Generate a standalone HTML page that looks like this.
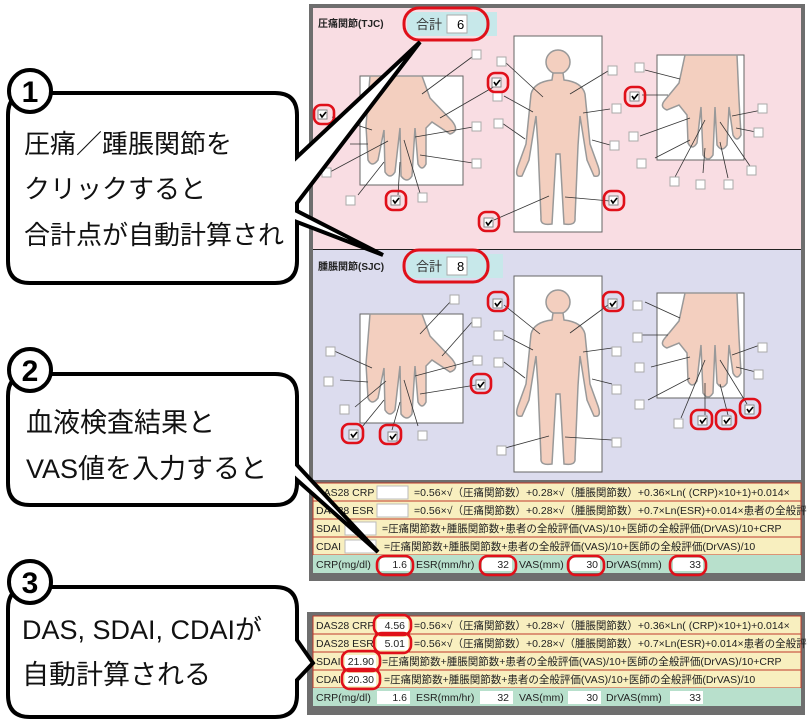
<!DOCTYPE html>
<html><head><meta charset="utf-8"><style>
html,body{margin:0;padding:0;background:#fff;}
svg{display:block}
.ui{font-family:"Liberation Sans","Noto Sans CJK JP",sans-serif;}
</style></head><body>
<svg class="ui" width="807" height="722" viewBox="0 0 807 722" xmlns="http://www.w3.org/2000/svg">
<defs>
  <g id="lhand">
    <rect x="0" y="0" width="103" height="109" fill="#fff" stroke="#666" stroke-width="1"/>
    <path d="M10,0 L62,0 L70,22 L92,45 Q100,55 90,58 L72,46 L66,52 L66,88 Q62,96 58,88 L55,52 L52,100 Q47,108 41,100 L40,52 L35,96 Q30,104 25,96 L24,54 L18,84 Q12,92 8,84 L6,50 Z" fill="#f3cfbf" stroke="#999" stroke-width="1.5"/>
  </g>
  <g id="rhand">
    <rect x="0" y="0" width="87" height="105" fill="#fff" stroke="#666" stroke-width="1"/>
    <path d="M28,0 L80,0 L82,45 L84,80 Q80,88 76,80 L72,52 L70,90 Q65,98 60,90 L58,52 L56,100 Q51,108 46,100 L44,52 L40,88 Q35,96 31,88 L30,60 L22,50 L10,55 Q2,52 8,45 L22,28 Z" fill="#f3cfbf" stroke="#999" stroke-width="1.5"/>
  </g>
  <g id="body">
    <rect x="0" y="0" width="88" height="196" fill="#fff" stroke="#666" stroke-width="1"/>
    <circle cx="44" cy="26" r="12" fill="#f3cfbf" stroke="#999" stroke-width="1.5"/>
    <path d="M39,37 L49,37 L50,44 Q68,46 71,58 L76,108 L84,130 Q88,142 80,140 L73,124 L66,80 L64,110 L61,182 Q62,190 50,188 L46,118 L42,118 L38,188 Q26,190 27,182 L24,110 L22,80 L15,124 L8,140 Q0,142 4,130 L12,108 L17,58 Q20,46 38,44 Z" fill="#f3cfbf" stroke="#999" stroke-width="1.5"/>
  </g>
  <g id="cb"><rect x="0" y="0" width="9" height="9" fill="#fff" stroke="#aaa" stroke-width="1"/></g>
  <g id="cbc"><rect x="0" y="0" width="9" height="9" fill="#fff" stroke="#888" stroke-width="1"/><path d="M2,4 L4,7 L8,2" fill="none" stroke="#000" stroke-width="1.6"/></g>
</defs>

<!-- Panel 1 -->
<rect x="309" y="4" width="496" height="577" fill="#6e6e6e"/>
<rect x="313" y="8" width="488" height="241" fill="#f9dde3"/>
<rect x="313" y="250" width="488" height="230" fill="#dcdcee"/>
<line x1="313" y1="249.5" x2="801" y2="249.5" stroke="#222" stroke-width="1"/>

<text x="318" y="27" font-size="10" font-weight="bold" fill="#222">圧痛関節(TJC)</text>
<rect x="407" y="12" width="90" height="24" fill="#c7e8ea"/>
<text x="416" y="29" font-size="13" fill="#333">合計</text>
<rect x="447" y="15" width="20" height="18" fill="#fff" stroke="#aaa"/>
<text x="457" y="29" font-size="13" fill="#000">6</text>
<rect x="404" y="8" width="84" height="32" rx="15" fill="none" stroke="#e0101a" stroke-width="3"/>

<text x="318" y="270" font-size="10" font-weight="bold" fill="#222">腫脹関節(SJC)</text>
<rect x="407" y="254" width="96" height="24" fill="#c7e8ea"/>
<text x="416" y="271" font-size="13" fill="#333">合計</text>
<rect x="447" y="257" width="20" height="18" fill="#fff" stroke="#aaa"/>
<text x="457" y="271" font-size="13" fill="#000">8</text>
<rect x="404" y="250" width="84" height="32" rx="15" fill="none" stroke="#e0101a" stroke-width="3"/>

<!-- TJC figures -->
<use href="#lhand" x="360" y="76"/>
<use href="#body" x="514" y="36"/>
<use href="#rhand" x="657" y="55"/>
<g stroke="#333" stroke-width="0.8">
<line x1="422" y1="94" x2="472" y2="57"/><line x1="440" y1="118" x2="497" y2="85"/>
<line x1="332" y1="117" x2="372" y2="130"/><line x1="415" y1="137" x2="473" y2="127"/>
<line x1="420" y1="155" x2="473" y2="163"/><line x1="388" y1="141" x2="330" y2="172"/>
<line x1="384" y1="162" x2="358" y2="195"/><line x1="400" y1="162" x2="398" y2="195"/>
<line x1="404" y1="140" x2="420" y2="193"/><line x1="350" y1="144" x2="368" y2="144"/>
<line x1="543" y1="97" x2="505" y2="62"/><line x1="533" y1="112" x2="504" y2="96"/>
<line x1="525" y1="139" x2="502" y2="123"/><line x1="570" y1="94" x2="608" y2="71"/>
<line x1="583" y1="113" x2="610" y2="109"/><line x1="592" y1="140" x2="610" y2="145"/>
<line x1="549" y1="196" x2="494" y2="220"/><line x1="565" y1="197" x2="610" y2="201"/>
<line x1="680" y1="79" x2="645" y2="70"/><line x1="668" y1="95" x2="642" y2="95"/>
<line x1="690" y1="118" x2="640" y2="136"/><line x1="690" y1="140" x2="655" y2="158"/>
<line x1="705" y1="120" x2="675" y2="177"/><line x1="705" y1="148" x2="703" y2="173"/>
<line x1="720" y1="142" x2="728" y2="178"/><line x1="720" y1="122" x2="750" y2="166"/>
<line x1="732" y1="116" x2="762" y2="110"/><line x1="736" y1="128" x2="756" y2="132"/>
</g>
<g>
<use href="#cb" x="472" y="50"/><use href="#cbc" x="492" y="78"/><use href="#cbc" x="318" y="110"/>
<use href="#cb" x="472" y="122"/><use href="#cb" x="472" y="159"/><use href="#cb" x="322" y="168"/>
<use href="#cb" x="346" y="196"/><use href="#cbc" x="391" y="196"/><use href="#cb" x="418" y="193"/>
<use href="#cb" x="497" y="57"/><use href="#cb" x="493" y="92"/><use href="#cb" x="494" y="119"/>
<use href="#cb" x="608" y="66"/><use href="#cb" x="612" y="104"/><use href="#cb" x="610" y="141"/>
<use href="#cbc" x="484" y="218"/><use href="#cbc" x="609" y="196"/>
<use href="#cb" x="635" y="63"/><use href="#cbc" x="630" y="92"/><use href="#cb" x="629" y="132"/>
<use href="#cb" x="637" y="159"/><use href="#cb" x="670" y="177"/><use href="#cb" x="696" y="180"/>
<use href="#cb" x="724" y="180"/><use href="#cb" x="747" y="166"/><use href="#cb" x="758" y="104"/><use href="#cb" x="754" y="128"/>
</g>
<g fill="none" stroke="#e0101a" stroke-width="2.6">
<rect x="488" y="73" width="20" height="19" rx="7"/><rect x="314" y="105" width="20" height="19" rx="7"/>
<rect x="386" y="191" width="20" height="19" rx="7"/><rect x="479" y="212" width="20" height="19" rx="7"/>
<rect x="604" y="191" width="20" height="19" rx="7"/><rect x="625" y="87" width="20" height="19" rx="7"/>
</g>

<!-- SJC figures -->
<use href="#lhand" x="360" y="314"/>
<use href="#body" x="514" y="276"/>
<use href="#rhand" x="657" y="293"/>
<g stroke="#333" stroke-width="0.8">
<line x1="420" y1="334" x2="452" y2="300"/><line x1="442" y1="356" x2="472" y2="322"/>
<line x1="332" y1="350" x2="372" y2="368"/><line x1="340" y1="380" x2="368" y2="382"/>
<line x1="415" y1="376" x2="475" y2="360"/><line x1="420" y1="394" x2="476" y2="385"/>
<line x1="386" y1="381" x2="355" y2="407"/><line x1="384" y1="400" x2="362" y2="427"/>
<line x1="400" y1="402" x2="392" y2="430"/><line x1="404" y1="380" x2="418" y2="426"/>
<line x1="540" y1="334" x2="504" y2="305"/><line x1="533" y1="350" x2="504" y2="335"/>
<line x1="525" y1="378" x2="504" y2="362"/><line x1="570" y1="333" x2="608" y2="305"/>
<line x1="583" y1="352" x2="612" y2="348"/><line x1="592" y1="379" x2="612" y2="384"/>
<line x1="549" y1="436" x2="505" y2="448"/><line x1="565" y1="437" x2="612" y2="440"/>
<line x1="680" y1="318" x2="645" y2="302"/><line x1="668" y1="335" x2="642" y2="335"/>
<line x1="690" y1="357" x2="651" y2="367"/><line x1="690" y1="378" x2="648" y2="400"/>
<line x1="705" y1="360" x2="681" y2="418"/><line x1="705" y1="383" x2="705" y2="415"/>
<line x1="720" y1="384" x2="728" y2="415"/><line x1="720" y1="360" x2="747" y2="404"/>
<line x1="732" y1="355" x2="760" y2="345"/><line x1="736" y1="367" x2="756" y2="372"/>
</g>
<g>
<use href="#cb" x="450" y="295"/><use href="#cb" x="472" y="318"/><use href="#cb" x="326" y="347"/>
<use href="#cb" x="324" y="377"/><use href="#cb" x="473" y="356"/><use href="#cbc" x="476" y="380"/>
<use href="#cb" x="340" y="405"/><use href="#cbc" x="349" y="430"/><use href="#cbc" x="388" y="432"/><use href="#cb" x="418" y="431"/>
<use href="#cbc" x="493" y="299"/><use href="#cb" x="494" y="331"/><use href="#cb" x="494" y="358"/>
<use href="#cbc" x="608" y="299"/><use href="#cb" x="612" y="347"/><use href="#cb" x="612" y="385"/>
<use href="#cb" x="497" y="446"/><use href="#cb" x="612" y="438"/>
<use href="#cb" x="633" y="301"/><use href="#cb" x="633" y="333"/><use href="#cb" x="635" y="363"/>
<use href="#cb" x="635" y="400"/><use href="#cb" x="674" y="419"/><use href="#cbc" x="698" y="416"/>
<use href="#cbc" x="722" y="416"/><use href="#cbc" x="745" y="405"/><use href="#cb" x="758" y="343"/><use href="#cb" x="754" y="370"/>
</g>
<g fill="none" stroke="#e0101a" stroke-width="2.6">
<rect x="488" y="292" width="20" height="19" rx="7"/><rect x="603" y="292" width="20" height="19" rx="7"/>
<rect x="471" y="374" width="20" height="19" rx="7"/><rect x="342" y="424" width="21" height="19" rx="7"/>
<rect x="380" y="425" width="21" height="19" rx="7"/><rect x="691" y="410" width="21" height="19" rx="7"/>
<rect x="716" y="410" width="20" height="19" rx="7"/><rect x="740" y="399" width="20" height="19" rx="7"/>
</g>

<!-- Formula rows panel 1 -->
<g font-size="10.5" fill="#222">
<rect x="313" y="483" width="488" height="18" fill="#f8efbf" stroke="#c0392b" stroke-width="1"/>
<rect x="313" y="501" width="488" height="18" fill="#f8efbf" stroke="#c0392b" stroke-width="1"/>
<rect x="313" y="519" width="488" height="18" fill="#f8efbf" stroke="#c0392b" stroke-width="1"/>
<rect x="313" y="537" width="488" height="18" fill="#f8efbf" stroke="#c0392b" stroke-width="1"/>
<rect x="313" y="555" width="488" height="18" fill="#b8e0cc"/>
<text x="316" y="496">DAS28 CRP</text><rect x="377" y="486" width="31" height="13" fill="#fff" stroke="#bbb"/>
<text x="414" y="496">=0.56×√（圧痛関節数）+0.28×√（腫脹関節数）+0.36×Ln( (CRP)×10+1)+0.014×</text>
<text x="316" y="514">DAS28 ESR</text><rect x="377" y="504" width="31" height="13" fill="#fff" stroke="#bbb"/>
<text x="414" y="514">=0.56×√（圧痛関節数）+0.28×√（腫脹関節数）+0.7×Ln(ESR)+0.014×患者の全般評価</text>
<text x="316" y="532">SDAI</text><rect x="345" y="522" width="31" height="13" fill="#fff" stroke="#bbb"/>
<text x="382" y="532">=圧痛関節数+腫脹関節数+患者の全般評価(VAS)/10+医師の全般評価(DrVAS)/10+CRP</text>
<text x="316" y="550">CDAI</text><rect x="345" y="540" width="31" height="13" fill="#fff" stroke="#bbb"/>
<text x="384" y="550">=圧痛関節数+腫脹関節数+患者の全般評価(VAS)/10+医師の全般評価(DrVAS)/10</text>
<text x="316" y="568">CRP(mg/dl)</text><rect x="380" y="558" width="30" height="13" fill="#fff"/><text x="407" y="568" text-anchor="end">1.6</text>
<text x="416" y="568">ESR(mm/hr)</text><rect x="482" y="558" width="30" height="13" fill="#fff"/><text x="509" y="568" text-anchor="end">32</text>
<text x="519" y="568">VAS(mm)</text><rect x="570" y="558" width="30" height="13" fill="#fff"/><text x="598" y="568" text-anchor="end">30</text>
<text x="606" y="568">DrVAS(mm)</text><rect x="673" y="558" width="30" height="13" fill="#fff"/><text x="701" y="568" text-anchor="end">33</text>
</g>
<g fill="none" stroke="#e0101a" stroke-width="2.6">
<rect x="377" y="556" width="36" height="19" rx="8"/><rect x="480" y="556" width="36" height="19" rx="8"/>
<rect x="568" y="556" width="36" height="19" rx="8"/><rect x="670" y="556" width="36" height="19" rx="8"/>
</g>

<!-- Panel 2 -->
<rect x="307" y="612" width="498" height="103" fill="#6e6e6e"/>
<g font-size="10.5" fill="#222">
<rect x="313" y="616" width="488" height="18" fill="#f8efbf" stroke="#c0392b" stroke-width="1"/>
<rect x="313" y="634" width="488" height="18" fill="#f8efbf" stroke="#c0392b" stroke-width="1"/>
<rect x="313" y="652" width="488" height="18" fill="#f8efbf" stroke="#c0392b" stroke-width="1"/>
<rect x="313" y="670" width="488" height="18" fill="#f8efbf" stroke="#c0392b" stroke-width="1"/>
<rect x="313" y="688" width="488" height="18" fill="#b8e0cc"/>
<text x="316" y="629">DAS28 CRP</text><rect x="377" y="619" width="31" height="13" fill="#fff"/><text x="405" y="629" text-anchor="end">4.56</text>
<text x="414" y="629">=0.56×√（圧痛関節数）+0.28×√（腫脹関節数）+0.36×Ln( (CRP)×10+1)+0.014×</text>
<text x="316" y="647">DAS28 ESR</text><rect x="377" y="637" width="31" height="13" fill="#fff"/><text x="405" y="647" text-anchor="end">5.01</text>
<text x="414" y="647">=0.56×√（圧痛関節数）+0.28×√（腫脹関節数）+0.7×Ln(ESR)+0.014×患者の全般評価</text>
<text x="316" y="665">SDAI</text><rect x="345" y="655" width="31" height="13" fill="#fff"/><text x="374" y="665" text-anchor="end">21.90</text>
<text x="382" y="665">=圧痛関節数+腫脹関節数+患者の全般評価(VAS)/10+医師の全般評価(DrVAS)/10+CRP</text>
<text x="316" y="683">CDAI</text><rect x="345" y="673" width="31" height="13" fill="#fff"/><text x="374" y="683" text-anchor="end">20.30</text>
<text x="384" y="683">=圧痛関節数+腫脹関節数+患者の全般評価(VAS)/10+医師の全般評価(DrVAS)/10</text>
<text x="316" y="701">CRP(mg/dl)</text><rect x="377" y="691" width="33" height="13" fill="#fff"/><text x="407" y="701" text-anchor="end">1.6</text>
<text x="416" y="701">ESR(mm/hr)</text><rect x="480" y="691" width="33" height="13" fill="#fff"/><text x="509" y="701" text-anchor="end">32</text>
<text x="519" y="701">VAS(mm)</text><rect x="568" y="691" width="33" height="13" fill="#fff"/><text x="598" y="701" text-anchor="end">30</text>
<text x="606" y="701">DrVAS(mm)</text><rect x="670" y="691" width="33" height="13" fill="#fff"/><text x="701" y="701" text-anchor="end">33</text>
</g>
<g fill="none" stroke="#e0101a" stroke-width="2.6">
<rect x="374" y="615" width="37" height="20" rx="8"/><rect x="374" y="633" width="37" height="20" rx="8"/>
<rect x="342" y="651" width="38" height="20" rx="8"/><rect x="342" y="669" width="38" height="20" rx="8"/>
</g>

<!-- Callout 1 -->
<path d="M30,93 L275,93 Q297,93 297,115 L297,157 L420,42 L297,203 L297,211 L383,255 L297,222 L297,261 Q297,283 275,283 L30,283 Q8,283 8,261 L8,115 Q8,93 30,93 Z" fill="#fff" stroke="#000" stroke-width="4" stroke-linejoin="miter"/>
<text x="24" y="153" font-size="26" fill="#111">圧痛／踵脹関節を</text>
<text x="24" y="198" font-size="26" fill="#111">クリックすると</text>
<text x="24" y="244" font-size="26" fill="#111">合計点が自動計算され</text>
<circle cx="30" cy="91" r="21" fill="#fff" stroke="#000" stroke-width="4"/>
<text x="30" y="102" font-size="30" font-weight="bold" text-anchor="middle" fill="#000">1</text>

<!-- Callout 2 -->
<path d="M30,374 L275,374 Q297,374 297,396 L297,465 L378,552 L297,480 L297,483 Q297,505 275,505 L30,505 Q8,505 8,483 L8,396 Q8,374 30,374 Z" fill="#fff" stroke="#000" stroke-width="4"/>
<text x="26" y="432" font-size="27" fill="#111">血液検査結果と</text>
<text x="26" y="478" font-size="27" fill="#111">VAS値を入力すると</text>
<circle cx="30" cy="370" r="21" fill="#fff" stroke="#000" stroke-width="4"/>
<text x="30" y="381" font-size="30" font-weight="bold" text-anchor="middle" fill="#000">2</text>

<!-- Callout 3 -->
<path d="M30,587 L275,587 Q297,587 297,609 L297,640 L313,663 L297,680 L297,695 Q297,717 275,717 L30,717 Q8,717 8,695 L8,609 Q8,587 30,587 Z" fill="#fff" stroke="#000" stroke-width="4"/>
<text x="22" y="639" font-size="27" fill="#111">DAS, SDAI, CDAIが</text>
<text x="22" y="684" font-size="27" fill="#111">自動計算される</text>
<circle cx="30" cy="582" r="21" fill="#fff" stroke="#000" stroke-width="4"/>
<text x="30" y="593" font-size="30" font-weight="bold" text-anchor="middle" fill="#000">3</text>
</svg>
</body></html>
